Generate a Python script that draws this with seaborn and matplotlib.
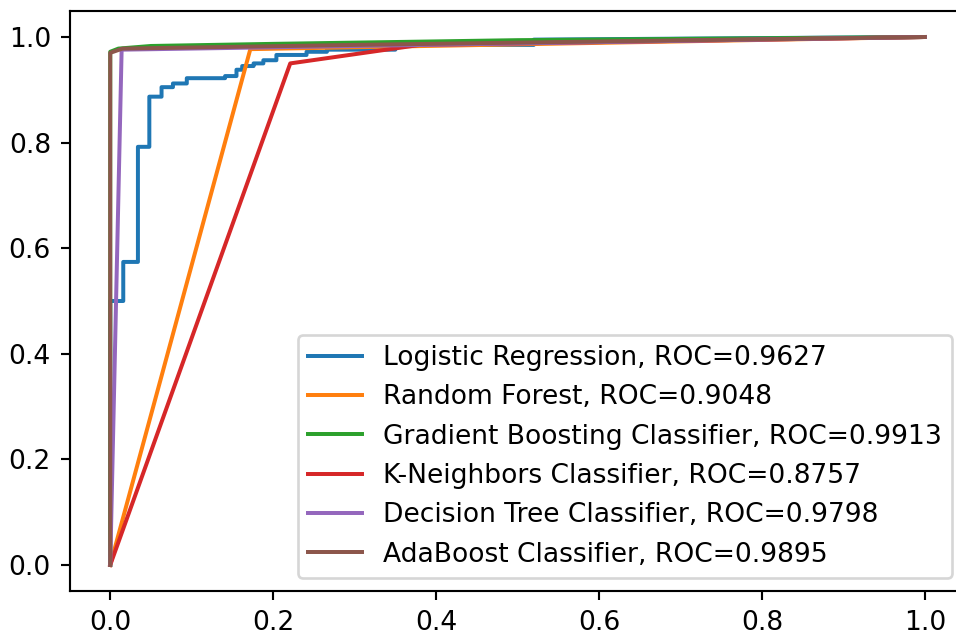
import numpy as np
import pandas as pd
import matplotlib
matplotlib.use("Agg")
import matplotlib.pyplot as plt
import seaborn as sns

# ROC curve points
lr_fpr = [0, 0, 0.016, 0.016, 0.034, 0.034, 0.048, 0.048, 0.063, 0.063, 0.077, 0.077,
          0.094, 0.094, 0.141, 0.141, 0.155, 0.155, 0.162, 0.162, 0.176, 0.176,
          0.188, 0.188, 0.204, 0.204, 0.241, 0.241, 0.266, 0.266, 0.35, 0.35,
          0.52, 0.52, 1.0]
lr_tpr = [0, 0.50, 0.50, 0.574, 0.574, 0.792, 0.792, 0.887, 0.887, 0.905, 0.905, 0.912,
          0.912, 0.922, 0.922, 0.926, 0.926, 0.938, 0.938, 0.945, 0.945, 0.950,
          0.950, 0.956, 0.956, 0.966, 0.966, 0.972, 0.972, 0.976, 0.976, 0.985,
          0.985, 0.995, 1.0]
rf_fpr = [0, 0.172, 1.0]
rf_tpr = [0, 0.977, 1.0]
gb_fpr = [0, 0, 0.01, 0.05, 0.2, 0.5, 1.0]
gb_tpr = [0, 0.972, 0.978, 0.983, 0.987, 0.994, 1.0]
knn_fpr = [0, 0.221, 0.38, 1.0]
knn_tpr = [0, 0.95, 0.985, 1.0]
dt_fpr = [0, 0.014, 1.0]
dt_tpr = [0, 0.976, 1.0]
ada_fpr = [0, 0, 0.015, 0.3, 1.0]
ada_tpr = [0, 0.97, 0.978, 0.985, 1.0]

models = ["Logistic Regression", "Random Forest", "Gradient Boosting Classifier",
          "K-Neighbors Classifier", "Decision Tree Classifier", "AdaBoost Classifier"]
aucs = [0.9627, 0.9048, 0.9913, 0.8757, 0.9798, 0.9895]
curves = [(lr_fpr, lr_tpr), (rf_fpr, rf_tpr), (gb_fpr, gb_tpr),
          (knn_fpr, knn_tpr), (dt_fpr, dt_tpr), (ada_fpr, ada_tpr)]

dpi = 191
fig = plt.figure(figsize=(956 / dpi, 639 / dpi), dpi=dpi)
# axes run past the right edge of the picture, as in the cropped original
ax = fig.add_axes([69.5 / 956, (639 - 591.4) / 639, 896 / 956, 580.8 / 639])

colors = sns.color_palette("tab10", 6)
for (fpr, tpr), name, auc, c in zip(curves, models, aucs, colors):
    df = pd.DataFrame({"fpr": fpr, "tpr": tpr})
    sns.lineplot(data=df, x="fpr", y="tpr", sort=False, estimator=None,
                 color=c, label=f"{name}, ROC={auc:.4f}", ax=ax)

ax.set_xlabel("")
ax.set_ylabel("")
ax.set_xlim(-0.05, 1.05)
ax.set_ylim(-0.05, 1.05)
ax.spines["right"].set_visible(False)
ax.legend(loc="lower right")

fig.savefig("out.png", dpi=dpi)
